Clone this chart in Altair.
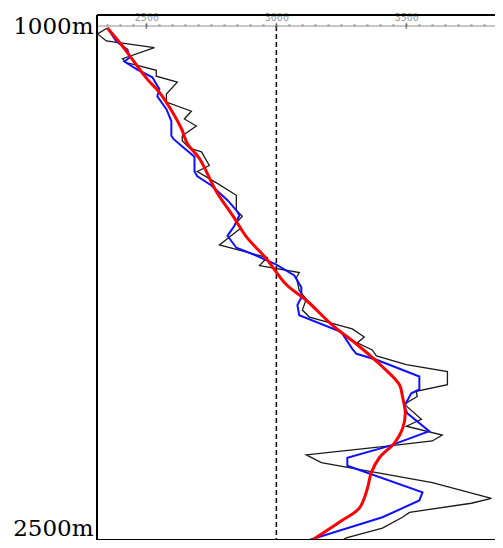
import altair as alt
import pandas as pd

# ---- data (velocity, depth) ----
black_v = [2350, 2312, 2346, 2531, 2408, 2423, 2454, 2538, 2538, 2619, 2577, 2577, 2673, 2646,
           2692, 2638, 2638, 2665, 2712, 2742, 2696, 2773, 2846, 2846, 2869, 2846, 2865, 2781,
           2965, 2935, 3088, 3077, 3088, 3115, 3100, 3127, 3292, 3338, 3311, 3369, 3385, 3500,
           3658, 3658, 3538, 3542, 3492, 3558, 3500, 3638, 3600, 3435, 3115, 3173, 3600, 3827,
           3750, 3512, 3485, 3408, 3269, 3255]
black_d = [1037, 1054, 1074, 1093, 1125, 1136, 1142, 1158, 1175, 1192, 1226, 1249, 1275, 1297,
           1317, 1345, 1359, 1380, 1391, 1430, 1447, 1481, 1515, 1558, 1575, 1594, 1608, 1657,
           1693, 1716, 1736, 1750, 1787, 1812, 1843, 1863, 1897, 1920, 1937, 1957, 1974, 1999,
           2019, 2056, 2075, 2090, 2112, 2155, 2175, 2200, 2217, 2231, 2257, 2279, 2336, 2381,
           2395, 2421, 2435, 2466, 2494, 2500]

blue_v = [2350, 2385, 2427, 2435, 2415, 2465, 2523, 2550, 2542, 2577, 2596, 2596, 2604, 2638,
          2685, 2685, 2696, 2750, 2812, 2846, 2858, 2838, 2812, 2846, 2915, 3000, 3069, 3096,
          3096, 3081, 3088, 3250, 3292, 3308, 3385, 3550, 3550, 3550, 3519, 3492, 3504, 3588,
          3435, 3273, 3273, 3562, 3550, 3408, 3127]
blue_d = [1037, 1076, 1099, 1122, 1133, 1156, 1178, 1212, 1232, 1269, 1303, 1345, 1354, 1376,
          1405, 1447, 1461, 1487, 1529, 1558, 1572, 1603, 1631, 1665, 1685, 1713, 1744, 1778,
          1807, 1829, 1858, 1906, 1954, 1968, 1985, 2033, 2056, 2070, 2081, 2118, 2138, 2189,
          2231, 2265, 2288, 2364, 2387, 2435, 2500]

red_v = [2350, 2404, 2446, 2504, 2550, 2600, 2635, 2658, 2704, 2769, 2831, 2888, 2958, 3038,
         3115, 3215, 3308, 3408, 3473, 3485, 3496, 3485, 3454, 3396, 3365, 3350, 3319, 3242, 3138]
red_d = [1037, 1085, 1127, 1184, 1221, 1277, 1325, 1368, 1410, 1504, 1572, 1637, 1693, 1770,
         1815, 1886, 1940, 2005, 2056, 2090, 2138, 2183, 2223, 2265, 2308, 2353, 2409, 2449, 2500]

x_ticks = list(range(2350, 3850, 50))
x_major = [2500, 3000, 3500]
x_domain = [2310, 3841]
depth_domain = [1000, 2500]
depth_labels = [1000, 2500]
ref_velocity = [3000]

W, H = 398, 525
AXIS_Y = 11
XS = alt.Scale(domain=x_domain, nice=False, zero=False)
YS = alt.Scale(domain=depth_domain, reverse=True, nice=False, zero=False)


def frame(v, d):
    return pd.DataFrame({"v": v, "d": d, "i": list(range(len(v)))})


x_axis = alt.Axis(
    orient="top", offset=-AXIS_Y, values=x_ticks, format="d",
    labelExpr="datum.value % 500 == 0 ? datum.label : ''",
    labelOverlap=False, labelFlush=False,
    domain=False,
    tickColor="#666666", tickSize=2, tickWidth=2, tickOffset=0,
    labelFont="DejaVu Sans Mono", labelFontSize=10, labelColor="#999999",
    labelPadding=2, grid=False,
)
x_enc = alt.X("v:Q", title=None, scale=XS, axis=x_axis)
y_enc = alt.Y(
    "d:Q",
    title=None,
    scale=YS,
    axis=alt.Axis(
        values=depth_labels, labelExpr="datum.value + 'm'", labelFlush=True,
        labelOverlap=False,
        ticks=False, domain=False, grid=False,
        labelFont="DejaVu Serif", labelFontSize=23, labelColor="black", labelPadding=4,
    ),
)

edges = pd.DataFrame({"edge": ["axis", "left", "top", "bottom"]})

# light grey scale line of the depth track, inside the top border
axis_line = alt.Chart(edges.iloc[[0]]).mark_rule(color="#b5b5b5", strokeWidth=1.5).encode(
    x=alt.value(0), x2=alt.value(W), y=alt.value(AXIS_Y))

rule = alt.Chart(pd.DataFrame({"v": ref_velocity})).mark_rule(
    color="black", strokeWidth=1.5, strokeDash=[5, 3]
).encode(x=x_enc, y=alt.value(AXIS_Y), y2=alt.value(H))

major_ticks = alt.Chart(pd.DataFrame({"v": x_major})).mark_tick(
    color="#555555", size=6, thickness=1.5, orient="vertical"
).encode(x=x_enc, y=alt.value(AXIS_Y))

# frame: left, top and bottom edges (the right edge lies outside the picture)
left_edge = alt.Chart(edges.iloc[[1]]).mark_rule(color="black", strokeWidth=2).encode(
    x=alt.value(0), y=alt.value(0), y2=alt.value(H))
top_edge = alt.Chart(edges.iloc[[2]]).mark_rule(color="black", strokeWidth=2).encode(
    x=alt.value(0), x2=alt.value(W), y=alt.value(0))
bottom_edge = alt.Chart(edges.iloc[[3]]).mark_rule(color="black", strokeWidth=2).encode(
    x=alt.value(0), x2=alt.value(W), y=alt.value(H))

black = alt.Chart(frame(black_v, black_d)).mark_line(
    color="#1a1a1a", strokeWidth=1.3
).encode(x=x_enc, y=y_enc, order="i:Q")

blue = alt.Chart(frame(blue_v, blue_d)).mark_line(
    color="#1010ff", strokeWidth=2
).encode(x=x_enc, y=y_enc, order="i:Q")

red = alt.Chart(frame(red_v, red_d)).mark_line(
    color="#ff0000", strokeWidth=3, interpolate="catmull-rom"
).encode(x=x_enc, y=y_enc, order="i:Q")

chart = alt.layer(axis_line, rule, major_ticks, black, blue, red,
                  left_edge, top_edge, bottom_edge).properties(
    width=W, height=H,
    autosize=alt.AutoSizeParams(type="none"),
    padding={"left": 89, "top": 7, "right": 0, "bottom": 0},
).configure_view(stroke=None)

chart.save("out.html", embed_options={"renderer": "svg", "actions": False})
